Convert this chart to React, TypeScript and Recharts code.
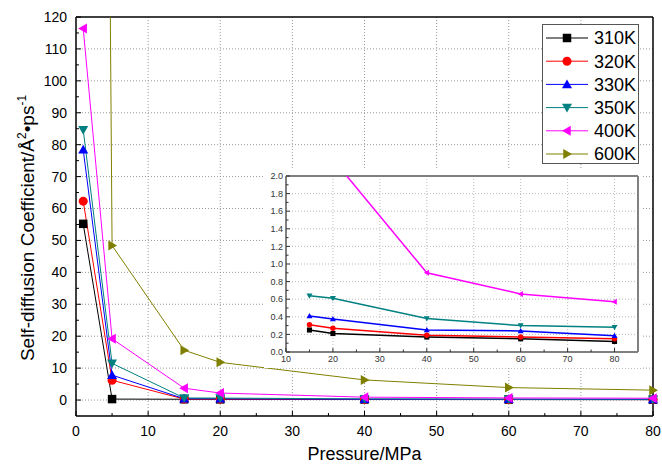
import React from 'react';
import { LineChart, Line, XAxis, YAxis, CartesianGrid, ReferenceLine } from 'recharts';

// pressure (MPa) and self-diffusion coefficients (Å²/ps)
const pressure = [1, 5, 15, 20, 40, 60, 80];
const names = ['310K', '320K', '330K', '350K', '400K', '600K'];
const d310 = [55.2, 0.3, 0.25, 0.21, 0.17, 0.15, 0.12];
const d320 = [62.3, 6.2, 0.31, 0.27, 0.19, 0.17, 0.15];
const d330 = [78.4, 7.8, 0.41, 0.375, 0.25, 0.24, 0.185];
const d350 = [84.7, 11.5, 0.64, 0.61, 0.38, 0.3, 0.28];
const d400 = [116.4, 19.2, 3.7, 2.19, 0.9, 0.66, 0.57];
const d600 = [1250, 48.4, 15.6, 11.8, 6.3, 3.9, 3.1];

const mainXTicks = [0, 5, 10, 15, 20, 25, 30, 35, 40, 45, 50, 55, 60, 65, 70, 75, 80];
const mainYTicks = [0, 5, 10, 15, 20, 25, 30, 35, 40, 45, 50, 55, 60, 65, 70, 75, 80, 85, 90, 95, 100, 105, 110, 115, 120];
const mainGridX = [10, 20, 30, 40, 50, 60, 70];
const mainGridY = [0, 10, 20, 30, 40, 50, 60, 70, 80, 90, 100, 110];

const insetXTicks = [10, 15, 20, 25, 30, 35, 40, 45, 50, 55, 60, 65, 70, 75, 80];
const insetYTicks = [0, 0.1, 0.2, 0.3, 0.4, 0.5, 0.6, 0.7, 0.8, 0.9, 1.0, 1.1, 1.2, 1.3, 1.4, 1.5, 1.6, 1.7, 1.8, 1.9, 2.0];
const insetGridX = [20, 30, 40, 50, 60, 70, 80];
const insetGridY = [0.2, 0.4, 0.6, 0.8, 1.0, 1.2, 1.4, 1.6, 1.8];

const values = [d310, d320, d330, d350, d400, d600];
const keys = ['s310', 's320', 's330', 's350', 's400', 's600'];
const colors = ['#000000', '#ff0000', '#0000ff', '#008080', '#ff00ff', '#808000'];
const shapes = ['square', 'circle', 'up', 'down', 'left', 'right'];

const rows = pressure.map((p, i) => {
  const r: any = { p };
  keys.forEach((k, j) => (r[k] = values[j][i]));
  return r;
});
const insetRows = rows.filter((r) => r.p >= 15);

const FONT = '"Liberation Sans", Arial, Helvetica, sans-serif';

const Marker = ({ cx, cy, shape, color, size }: any) => {
  if (cx == null || cy == null) return null;
  const h = size / 2;
  switch (shape) {
    case 'square':
      return <rect x={cx - h * 0.85} y={cy - h * 0.85} width={size * 0.85} height={size * 0.85} fill={color} />;
    case 'circle':
      return <circle cx={cx} cy={cy} r={h * 0.9} fill={color} />;
    case 'up':
      return <polygon points={`${cx},${cy - h} ${cx + h},${cy + h * 0.75} ${cx - h},${cy + h * 0.75}`} fill={color} />;
    case 'down':
      return <polygon points={`${cx},${cy + h} ${cx + h},${cy - h * 0.75} ${cx - h},${cy - h * 0.75}`} fill={color} />;
    case 'left':
      return <polygon points={`${cx - h},${cy} ${cx + h * 0.75},${cy - h} ${cx + h * 0.75},${cy + h}`} fill={color} />;
    default:
      return <polygon points={`${cx + h},${cy} ${cx - h * 0.75},${cy - h} ${cx - h * 0.75},${cy + h}`} fill={color} />;
  }
};

const makeYTick = (margin: number, major: (v: number) => boolean, fmt: (v: number) => string, fs: number, color: string, tl: number[]) =>
  (props: any) => {
    const { x, y, payload } = props;
    const v = payload.value;
    const isMajor = major(v);
    const ax = x + margin;
    return (
      <g>
        <line x1={ax} x2={ax + (isMajor ? tl[0] : tl[1])} y1={y} y2={y} stroke={color} strokeWidth={1} />
        {isMajor && (
          <text x={x} y={y} dy="0.35em" textAnchor="end" fontSize={fs} fill={color} fontFamily={FONT}>
            {fmt(v)}
          </text>
        )}
      </g>
    );
  };

const makeXTick = (margin: number, major: (v: number) => boolean, fs: number, color: string, tl: number[]) =>
  (props: any) => {
    const { x, y, payload } = props;
    const v = payload.value;
    const isMajor = major(v);
    const ay = y - margin;
    return (
      <g>
        <line x1={x} x2={x} y1={ay} y2={ay - (isMajor ? tl[0] : tl[1])} stroke={color} strokeWidth={1} />
        {isMajor && (
          <text x={x} y={y} dy="0.71em" textAnchor="middle" fontSize={fs} fill={color} fontFamily={FONT}>
            {v}
          </text>
        )}
      </g>
    );
  };

const YTitle = () => (
  <text
    x={34}
    y={228}
    transform="rotate(-90, 34, 228)"
    textAnchor="middle"
    fontSize={19}
    fontFamily={FONT}
    fill="#000"
  >
    Self-diffusion Coefficient/Å
    <tspan fontSize={12} dy={-8}>2</tspan>
    <tspan dy={8}>•ps</tspan>
    <tspan fontSize={12} dy={-8}>-1</tspan>
  </text>
);

const MainChart = () => (
  <LineChart width={662} height={470} data={rows} margin={{ top: 17, right: 9, left: 0, bottom: 0 }}>
    <CartesianGrid horizontalValues={mainGridY} verticalValues={mainGridX} stroke="#999" strokeDasharray="1 2" />
    <XAxis
      dataKey="p"
      type="number"
      domain={[0, 80]}
      ticks={mainXTicks}
      interval={0}
      height={54}
      tickSize={0}
      tickMargin={10}
      tickLine={false}
      axisLine={{ stroke: '#000', strokeWidth: 1.5 }}
      tick={makeXTick(10, (v) => v % 10 === 0, 14, '#000', [5, 3])}
      label={{ value: 'Pressure/MPa', position: 'insideBottom', offset: 10, fontSize: 18, fill: '#000', fontFamily: FONT }}
    />
    <YAxis
      type="number"
      domain={[-5, 120]}
      allowDataOverflow
      ticks={mainYTicks}
      interval={0}
      width={76}
      tickSize={0}
      tickMargin={9}
      tickLine={false}
      axisLine={{ stroke: '#000', strokeWidth: 1.5 }}
      tick={makeYTick(9, (v) => v % 10 === 0, (v) => String(v), 14, '#000', [5, 3])}
      label={{ content: () => <YTitle /> }}
    />
    <ReferenceLine y={120} stroke="#000" strokeWidth={1.5} />
    <ReferenceLine x={80} stroke="#000" strokeWidth={1.5} />
    {keys.map((k, j) => (
      <Line
        key={k}
        dataKey={k}
        name={names[j]}
        stroke={colors[j]}
        strokeWidth={1}
        isAnimationActive={false}
        activeDot={false}
        dot={(p: any) => <Marker key={`${k}-${p.index}`} cx={p.cx} cy={p.cy} shape={shapes[j]} color={colors[j]} size={10} />}
      />
    ))}
  </LineChart>
);

const InsetChart = () => (
  <LineChart width={377} height={200} data={insetRows} margin={{ top: 8, right: 3, left: 0, bottom: 0 }}>
    <CartesianGrid horizontalValues={insetGridY} verticalValues={insetGridX} stroke="#bbb" strokeDasharray="1 2" />
    <XAxis
      dataKey="p"
      type="number"
      domain={[10, 85]}
      ticks={insetXTicks}
      interval={0}
      height={16}
      tickSize={0}
      tickMargin={4}
      tickLine={false}
      axisLine={{ stroke: '#808080', strokeWidth: 2 }}
      tick={makeXTick(4, (v) => v % 10 === 0, 9, '#333', [4, 2.5])}
    />
    <YAxis
      type="number"
      domain={[0, 2]}
      allowDataOverflow
      ticks={insetYTicks}
      interval={0}
      width={22}
      tickSize={0}
      tickMargin={3}
      tickLine={false}
      axisLine={{ stroke: '#808080', strokeWidth: 2 }}
      tick={makeYTick(3, (v) => Math.round(v * 10) % 2 === 0, (v) => v.toFixed(1), 9, '#333', [4, 2.5])}
    />
    <ReferenceLine y={2} stroke="#808080" strokeWidth={2} />
    <ReferenceLine x={85} stroke="#808080" strokeWidth={2} />
    {keys.map((k, j) => (
      <Line
        key={k}
        dataKey={k}
        stroke={colors[j]}
        strokeWidth={1.5}
        isAnimationActive={false}
        activeDot={false}
        dot={(p: any) => <Marker key={`${k}-${p.index}`} cx={p.cx} cy={p.cy} shape={shapes[j]} color={colors[j]} size={6} />}
      />
    ))}
  </LineChart>
);

const LegendBox = () => (
  <div
    style={{
      position: 'absolute',
      left: 542,
      top: 24,
      width: 95,
      height: 138,
      border: '1.5px solid #555',
      background: '#fff',
    }}
  >
    <svg width={95} height={138}>
      {names.map((n, j) => {
        const cy = 13 + j * 23.2;
        return (
          <g key={n}>
            <line x1={3} x2={45} y1={cy} y2={cy} stroke={colors[j]} strokeWidth={1} />
            <Marker cx={24} cy={cy} shape={shapes[j]} color={colors[j]} size={10} />
            <text x={51} y={cy} dy="0.36em" fontSize={18} fontFamily={FONT} fill="#000">
              {n}
            </text>
          </g>
        );
      })}
    </svg>
  </div>
);

export default function App() {
  return (
    <div style={{ position: 'absolute', left: 0, top: 0, width: 662, height: 470, background: '#fff', fontFamily: FONT }}>
      <MainChart />
      <div style={{ position: 'absolute', left: 264, top: 168, width: 377, height: 200, background: '#fff' }}>
        <InsetChart />
      </div>
      <LegendBox />
    </div>
  );
}
